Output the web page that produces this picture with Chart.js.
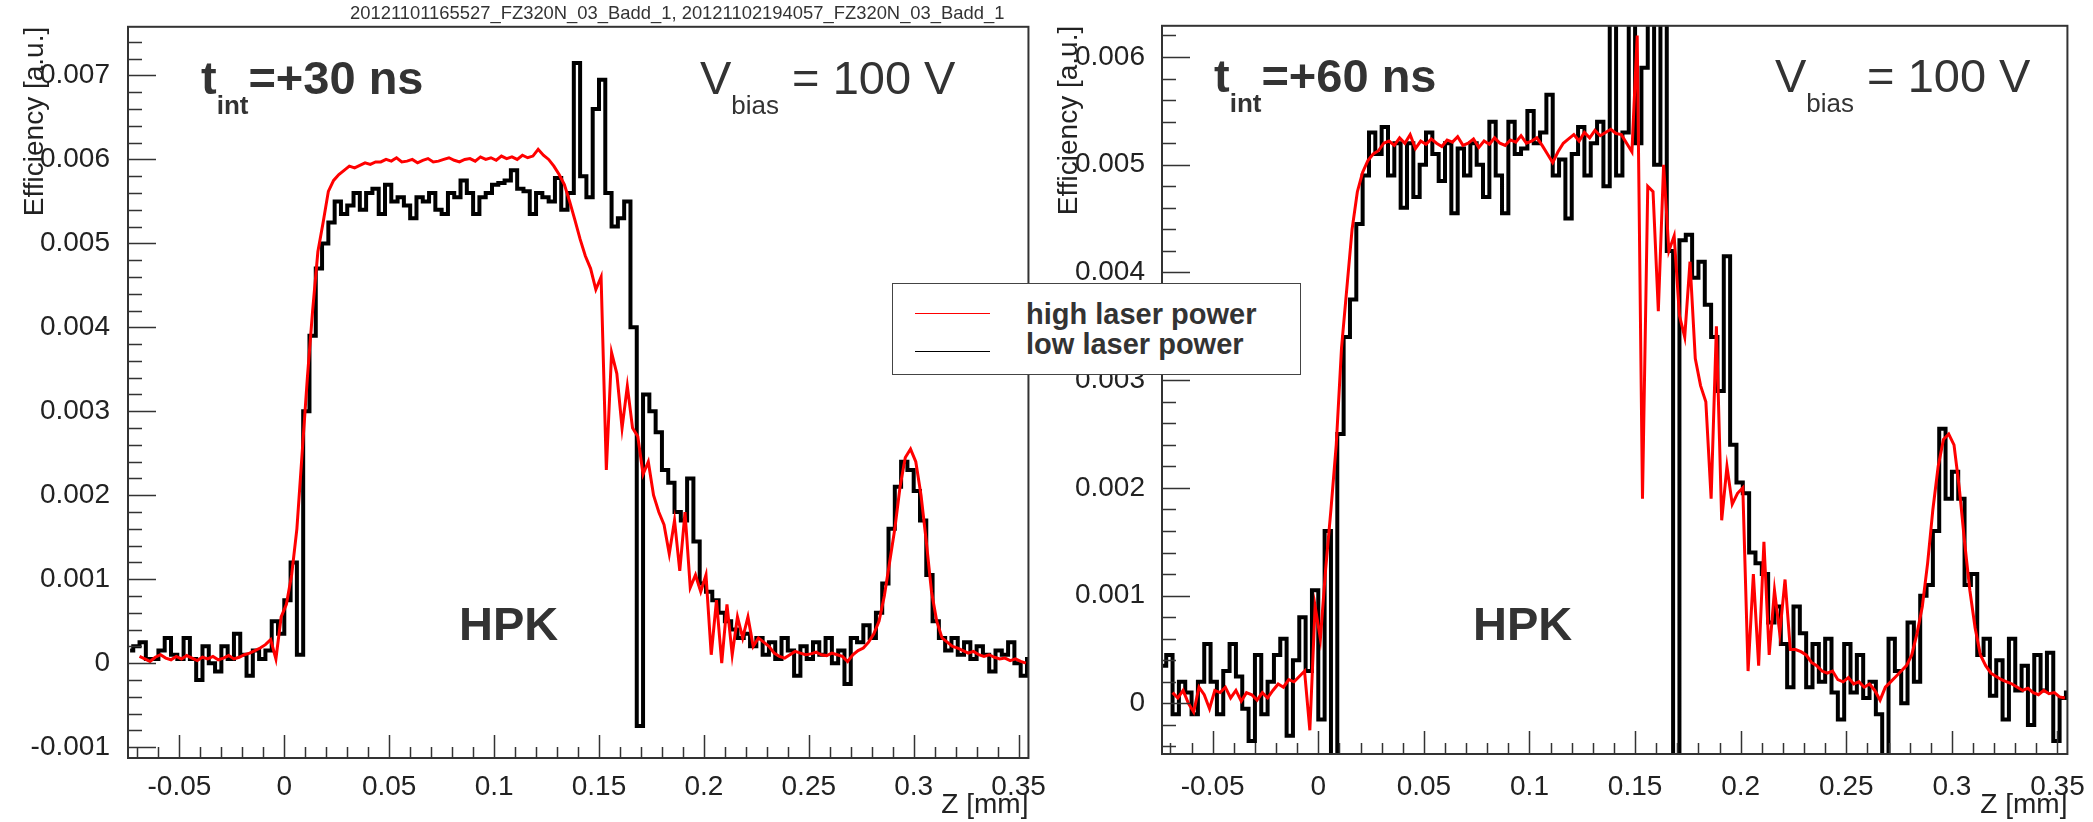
<!DOCTYPE html>
<html>
<head>
<meta charset="utf-8">
<script src="https://cdn.jsdelivr.net/npm/chart.js@4.4.1/dist/chart.umd.min.js"></script>
<style>
  html, body { margin: 0; padding: 0; background: #fff; }
  body { width: 2093px; height: 822px; position: relative; overflow: hidden;
         font-family: 'Liberation Sans', Arial, sans-serif; color: #333; }
  canvas { position: absolute; top: 0; }
  .txt { position: absolute; white-space: nowrap; font-size: 47px; line-height: 47px; }
  .bold { font-weight: bold; }
  .sub { font-size: 26px; position: relative; top: 20px; }
  #runs { position: absolute; left: 350px; top: 3px; font-size: 18.4px; line-height: 20px; white-space: nowrap; }
  #legend { position: absolute; left: 892px; top: 283px; width: 409px; height: 92px;
            box-sizing: border-box; border: 1.5px solid #444; background: #fff; z-index: 5; }
  #legend .ln { position: absolute; left: 22px; width: 75px; height: 1px; }
  #legend .lt { position: absolute; left: 133px; font-size: 29px; line-height: 30px; font-weight: bold; white-space: nowrap; }
</style>
</head>
<body>
<canvas id="cLeft" width="1050" height="822" style="left:0"></canvas>
<canvas id="cRight" width="1043" height="822" style="left:1050px"></canvas>

<div id="runs">20121101165527_FZ320N_03_Badd_1, 20121102194057_FZ320N_03_Badd_1</div>

<div class="txt bold" style="left:201px;top:54px">t<span class="sub">int</span>=+30 ns</div>
<div class="txt" style="left:700px;top:54px">V<span class="sub">bias</span> = 100 V</div>
<div class="txt bold" style="left:459px;top:600px">HPK</div>

<div class="txt bold" style="left:1214px;top:52px">t<span class="sub">int</span>=+60 ns</div>
<div class="txt" style="left:1775px;top:52px">V<span class="sub">bias</span> = 100 V</div>
<div class="txt bold" style="left:1473px;top:600px">HPK</div>

<div id="legend">
  <div class="ln" style="top:29px;background:#ff0000"></div>
  <div class="lt" style="top:15px">high laser power</div>
  <div class="ln" style="top:67px;background:#000"></div>
  <div class="lt" style="top:45px">low laser power</div>
</div>

<script>
// histogram binning (Z in mm)
const lowBinLo = -0.075;   // low laser power: step histogram, first bin edge
const lowBinW = 0.003;
const highZ0 = -0.069;     // high laser power: line, first point
const highDz = 0.0025;

// t_int = +30 ns
const lowLeft = [
  0.00015, 0.0002, 0.00025, 0.00005, 0.00005, 0.00015, 0.0003, 0.0001, 0.00005, 0.0003, 0.00005, -0.0002,
  0.0002, 0, -0.0001, 0.0002, 0.00005, 0.00035, 0.0001, -0.00015, 0.00015, 0.00005, 0.00015,
  0.0005, 0.00035, 0.00075, 0.0012, 0.0001, 0.003, 0.0039, 0.0047, 0.005, 0.00525, 0.0055, 0.00535,
  0.00545, 0.0056, 0.0054, 0.0056, 0.00565, 0.00535, 0.0057, 0.0055, 0.00555, 0.00545, 0.0053, 0.00555,
  0.0055, 0.0056, 0.0054, 0.00535, 0.0056, 0.00555, 0.00575, 0.0056, 0.00535, 0.00555, 0.0056, 0.0057,
  0.00572, 0.00575, 0.00587, 0.00565, 0.00562, 0.00535, 0.0056, 0.00555, 0.0055, 0.00578, 0.0054, 0.0056,
  0.00715, 0.0058, 0.00555, 0.0066, 0.00695, 0.0056, 0.0052, 0.0053, 0.0055, 0.004, -0.00075, 0.0032,
  0.003, 0.00275, 0.0023, 0.00215, 0.0018, 0.0017, 0.0022, 0.00145, 0.00095, 0.00085, 0.00075, 0.0006,
  0.0005, 0.0004, 0.0003, 0.00035, 0.0002,
  0.0003, 0.0001, 0.00025, 0.00005, 0.0003, 0.00015, -0.00015, 0.0002, 0.00005, 0.00025, 0.0001, 0.0003,
  0, 0.00015, -0.00025, 0.0003, 0.00025,
  0.00045, 0.0003, 0.0006, 0.00095, 0.0016, 0.0021, 0.0024, 0.0023, 0.00205, 0.0017, 0.00105, 0.0005, 0.0003,
  0.00015, 0.0003, 0.0001, 0.00025, 0.00005, 0.0002, 0.0001, -0.0001, 0.00015, 0.0001, 0.00025, 0, -0.00015, 0.00005
];
const highLeft = [
  0.00008, 0.00005, 0.00002, 0.00007, 0.0001, 0.00006, 0.00004, 0.00008, 0.00005, 0.00009, 0.00006, 0.00003,
  0.00007, 0.00005, 0.00008, 0.00004, 0.00006, 0.00009, 0.00005, 0.00007,
  0.0001, 0.00012, 0.00015, 0.00018, 0.00022, 0.00028, 0.00005,
  0.00055, 0.0007, 0.00105, 0.0016, 0.0025, 0.0034, 0.0042, 0.0049, 0.00525, 0.00562, 0.00575, 0.00582, 0.00587, 0.00592,
  0.0059, 0.00593, 0.00596, 0.00594, 0.00597, 0.00597, 0.006, 0.00598, 0.00602, 0.00597, 0.00598, 0.006,
  0.00596, 0.00599, 0.00601, 0.00597, 0.00598, 0.006, 0.00602, 0.00599, 0.00597, 0.006, 0.00601, 0.00598,
  0.00603, 0.006, 0.00602, 0.00599, 0.00604, 0.00601, 0.00603, 0.006, 0.00605, 0.00602, 0.00604, 0.00612, 0.00605,
  0.006, 0.00592, 0.00582, 0.0057, 0.0055, 0.00528, 0.00505, 0.00485, 0.0047, 0.00445, 0.0046,
  0.0023, 0.0037, 0.00345, 0.0028, 0.0033, 0.0028, 0.0027, 0.00225, 0.0024, 0.002, 0.0018, 0.00165,
  0.0013, 0.0017, 0.0011, 0.0018, 0.0009, 0.00105, 0.00085, 0.00105, 0.0001, 0.00075, 0, 0.0007,
  0.0001, 0.00055, 0.0003, 0.00055, 0.0002, 0.0003, 0.00025, 0.0002,
  0.00012, 0.00008, 0.00006, 0.0001, 0.00014, 0.00012, 0.0001, 0.00011, 0.00013, 0.0001, 0.00009, 0.00012,
  0.0001, 0.00008, 0.00002, 0.0001, 0.00015,
  0.00018, 0.00025, 0.00035, 0.0005, 0.0008, 0.0012, 0.0016, 0.0021, 0.00245, 0.00255, 0.0024, 0.002,
  0.00145, 0.00085, 0.0005, 0.0003, 0.00025,
  0.0002, 0.00018, 0.00015, 0.00012, 0.00014, 0.0001, 0.00008, 0.0001, 0.00007, 0.00005, 0.00006, 0.00003,
  0.00005, 0.00002, 0
];

// t_int = +60 ns
const lowRight = [
  0.00035, 0.00045, -0.0001, 0.0002, 0.0001, -0.0001, 0.0002, 0.00055, 0.0002, -0.0001, 0.0003, 0.00055,
  0.00025, -0.00005, -0.00035, 0.00045, -0.0001, 0.0002, 0.00045, 0.0006, -0.0003, 0.0004,
  0.0008, 0.0003, 0.00105, -0.00015, 0.0016, -0.0006, 0.0025, 0.0034, 0.00375, 0.00445, 0.0049, 0.0053,
  0.0051, 0.00535, 0.0049, 0.0052, 0.0046, 0.0052, 0.0047, 0.005, 0.0053, 0.0051, 0.00485, 0.0052,
  0.00455, 0.00515, 0.0049, 0.0052, 0.005, 0.0047, 0.0054, 0.0049, 0.00455, 0.0054, 0.0051, 0.00515,
  0.0055, 0.0052, 0.0053, 0.00565, 0.0049, 0.00505, 0.0045, 0.0051, 0.00535, 0.0049, 0.0052, 0.0054, 0.0048,
  0.0064, 0.0049, 0.0053, 0.0064, 0.0052, 0.0059, 0.0064, 0.005, 0.0064, 0.0042, -0.0006, 0.0043,
  0.00435, 0.00395, 0.0041, 0.0037, 0.0034, 0.0029, 0.00415, 0.0024, 0.00205, 0.00195, 0.0014, 0.0013,
  0.0012, 0.00075, 0.0009, 0.00055, 0.00015,
  0.0009, 0.00065, 0.00015, 0.00055, 0.0002, 0.0006, 0.0001, -0.00015, 0.00055, 0.0001, 0.00045, 0.00005,
  0.0002, -0.0001, -0.0006, 0.0006, 0.0003,
  0, 0.00075, 0.0002, 0.001, 0.0011, 0.0016, 0.00255, 0.0019, 0.00215, 0.0019, 0.0011, 0.0012, 0.00045,
  0.0006, 0.00007, 0.0004, -0.00015, 0.0006, 0.00012, 0.00035, -0.0002, 0.00045, 0.00012, 0.00047, -0.00035, 0.00005, 0.0001
];
const highRight = [
  0.0001, 0.00005, 0.00012, 0, -0.00008, 0.00015, 0.00008, -0.00005, 0.00012, 0.0001, 0.00015, 0.00005,
  0.00012, 0.00002, 0.0001, 0.00008, 0.00003, 0.0001, 0.00005, 0.00012, 0.00018, 0.00015, 0.00022, 0.0002,
  0.00025, 0.0003,
  -0.00025, 0.0009, 0.0006, 0.00125, 0.0018, 0.0024, 0.0033, 0.00385, 0.0044, 0.00475, 0.00493, 0.00504,
  0.0051, 0.00513, 0.0052,
  0.00522, 0.00518, 0.00525, 0.0052, 0.00528, 0.00515, 0.00522, 0.00519, 0.00524, 0.0052, 0.00517, 0.00523,
  0.00521, 0.00526, 0.00518, 0.0052, 0.00524, 0.00516, 0.00522, 0.00519, 0.00525, 0.0052, 0.00518, 0.00523,
  0.00521, 0.00527, 0.0052, 0.00522, 0.00525, 0.00518, 0.0051, 0.00502, 0.00512, 0.0052, 0.00524, 0.00528,
  0.00522, 0.0053, 0.00525, 0.00532, 0.00527, 0.0053,
  0.00533, 0.00529, 0.00528, 0.0052, 0.00512,
  0.0062, 0.0019, 0.0048, 0.00475, 0.00364, 0.005, 0.0042, 0.00434, 0.0036, 0.0034, 0.0041, 0.0032,
  0.00295, 0.0028, 0.0019, 0.0035, 0.0017, 0.0022, 0.00185, 0.00195, 0.002, 0.0003, 0.0012, 0.00035,
  0.0015, 0.00045, 0.00105, 0.00065, 0.00115, 0.0005, 0.0005, 0.00048, 0.00045,
  0.00038, 0.00035, 0.0003, 0.00028, 0.0003, 0.00022, 0.0002, 0.00024, 0.00018, 0.0002, 0.00015, 0.00018,
  0.00012, 0.00003, 0.00015, 0.0002, 0.00025,
  0.0003, 0.00035, 0.00045, 0.00065, 0.0009, 0.0013, 0.0018, 0.0022, 0.00245, 0.0025, 0.0024, 0.002,
  0.0015, 0.00105, 0.0007, 0.00045, 0.00035,
  0.00028, 0.00025, 0.00022, 0.0002, 0.00018, 0.00015, 0.00012, 0.00014, 0.0001, 0.00008, 0.00012, 0.00009,
  0.0001, 0.00006, 0.00005
];

const xTitle = 'Z [mm]';
const yTitle = 'Efficiency [a.u.]';

// ROOT-style frame with ticks pointing inwards
const rootAxes = {
  id: 'rootAxes',
  afterDatasetsDraw(chart, args, o) {
    const { ctx, chartArea: a, scales: { x, y } } = chart;
    ctx.save();
    ctx.strokeStyle = '#333';
    ctx.lineWidth = 1.5;
    ctx.beginPath();
    for (let k = Math.ceil(x.min / o.xMinor - 1e-6); k * o.xMinor <= x.max; k++) {
      const px = Math.round(x.getPixelForValue(k * o.xMinor)) + 0.5;
      const len = k % 5 === 0 ? o.xMajorLen : o.xMinorLen;
      ctx.moveTo(px, a.bottom);
      ctx.lineTo(px, a.bottom - len);
    }
    for (let k = Math.ceil(y.min / o.yMinor - 1e-6); k * o.yMinor <= y.max; k++) {
      const py = Math.round(y.getPixelForValue(k * o.yMinor)) + 0.5;
      const len = k % 5 === 0 ? o.yMajorLen : o.yMinorLen;
      ctx.moveTo(a.left, py);
      ctx.lineTo(a.left + len, py);
    }
    ctx.stroke();
    ctx.lineWidth = 2;
    ctx.strokeRect(a.left, a.top, a.right - a.left, a.bottom - a.top);
    ctx.restore();
  }
};

function makePanel(id, low, high, p) {
  const ctx = document.getElementById(id).getContext('2d');
  const tickFont = { family: 'Liberation Sans', size: 28 };
  return new Chart(ctx, {
    type: 'line',
    data: {
      datasets: [
        {
          label: 'high laser power',
          data: high.map((v, i) => ({ x: highZ0 + i * highDz, y: v })),
          borderColor: '#ff0000',
          borderWidth: 3,
          pointRadius: 0,
          tension: 0,
          clip: 0,
          order: 0
        },
        {
          label: 'low laser power',
          data: low.map((v, i) => ({ x: lowBinLo + (i + 0.5) * lowBinW, y: v })),
          borderColor: '#000000',
          borderWidth: 4,
          stepped: 'middle',
          pointRadius: 0,
          clip: 0,
          order: 1
        }
      ]
    },
    options: {
      responsive: false,
      animation: false,
      events: [],
      layout: { autoPadding: false, padding: { left: 0, top: p.top, right: p.right, bottom: 0 } },
      plugins: {
        legend: { display: false },
        tooltip: { enabled: false },
        rootAxes: { xMinor: 0.01, yMinor: 0.0002, xMajorLen: 23, xMinorLen: 11, yMajorLen: 28, yMinorLen: 14 }
      },
      scales: {
        x: {
          type: 'linear',
          min: p.xMin,
          max: p.xMax,
          afterFit: s => { s.height = p.xAxisH; },
          grid: { display: false },
          border: { display: false },
          ticks: {
            stepSize: 0.05, includeBounds: false, autoSkip: false, maxRotation: 0, minRotation: 0,
            padding: p.xPad, color: '#222', font: tickFont,
            callback: v => String(Number(v.toFixed(2)))
          },
          title: { display: true, text: xTitle, align: 'end', color: '#222', font: tickFont, padding: 0 }
        },
        y: {
          type: 'linear',
          min: p.yMin,
          max: p.yMax,
          afterFit: s => { s.width = p.yAxisW; },
          grid: { display: false },
          border: { display: false },
          ticks: {
            stepSize: 0.001, includeBounds: false, autoSkip: false,
            padding: p.yPad, color: '#222', font: tickFont,
            callback: v => String(Number(v.toFixed(3)))
          },
          title: { display: true, text: yTitle, align: 'end', color: '#222', font: tickFont, padding: { top: p.yTitlePad, bottom: 0 } }
        }
      }
    },
    plugins: [rootAxes]
  });
}

makePanel('cLeft', lowLeft, highLeft, {
  xMin: -0.0745, xMax: 0.3547, yMin: -0.00113, yMax: 0.00758,
  top: 26, right: 15, xAxisH: 64, yAxisW: 128, xPad: 4, yPad: 10, yTitlePad: 18
});
makePanel('cRight', lowRight, highRight, {
  xMin: -0.074, xMax: 0.3547, yMin: -0.00047, yMax: 0.00629,
  top: 20, right: 24, xAxisH: 68, yAxisW: 112, xPad: 8, yPad: 9, yTitlePad: 2
});
</script>
</body>
</html>
